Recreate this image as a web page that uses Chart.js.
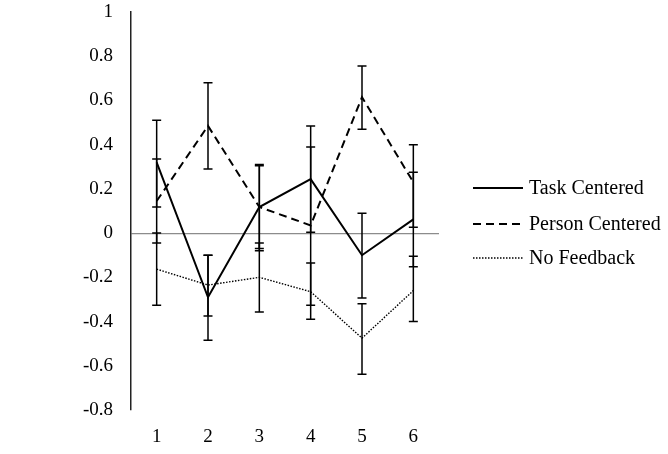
<!DOCTYPE html>
<html>
<head>
<meta charset="utf-8">
<script src="https://cdn.jsdelivr.net/npm/chart.js@4.4.0/dist/chart.umd.min.js"></script>
<style>
  html, body { margin: 0; padding: 0; background: #fff; }
  #wrap { width: 668px; height: 454px; }
</style>
</head>
<body>
<div id="wrap"><canvas id="chart" width="668" height="454"></canvas></div>
<script>
// values
var categories = ['1', '2', '3', '4', '5', '6'];
var yTicks = [1, 0.8, 0.6, 0.4, 0.2, 0, -0.2, -0.4, -0.6, -0.8];

var taskCentered = [0.32, -0.29, 0.118, 0.244, -0.10, 0.062];
var taskLow      = [0.118, -0.485, -0.07, 0.004, -0.294, -0.152];
var taskHigh     = [0.51, -0.10, 0.31, 0.484, 0.09, 0.275];

var personCentered = [0.145, 0.485, 0.118, 0.035, 0.615, 0.23];
var personLow      = [-0.045, 0.29, -0.08, -0.326, 0.47, 0.027];
var personHigh     = [0.335, 0.68, 0.305, 0.39, 0.756, 0.40];

var noFeedback = [-0.163, -0.235, -0.20, -0.265, -0.475, -0.26];
var noFbLow    = [-0.326, -0.375, -0.357, -0.39, -0.638, -0.40];
var noFbHigh   = [0.0, -0.10, -0.045, -0.135, -0.32, -0.105];

var seriesNames = ['Task Centered', 'Person Centered', 'No Feedback'];
var FONT = '"Liberation Serif", "Times New Roman", serif';

// error bars drawn through the scales
var errorBars = {
    id: 'errorBars',
    afterDatasetsDraw: function(chart) {
        var ctx = chart.ctx;
        var x = chart.scales.x, y = chart.scales.y;
        var bounds = [[taskLow, taskHigh], [personLow, personHigh], [noFbLow, noFbHigh]];
        ctx.save();
        ctx.strokeStyle = '#000';
        ctx.lineWidth = 1.5;
        ctx.setLineDash([]);
        bounds.forEach(function(b) {
            for (var i = 0; i < categories.length; i++) {
                var px = x.getPixelForValue(i);
                var lo = y.getPixelForValue(b[0][i]);
                var hi = y.getPixelForValue(b[1][i]);
                ctx.beginPath();
                ctx.moveTo(px, lo); ctx.lineTo(px, hi);
                ctx.moveTo(px - 4.5, lo); ctx.lineTo(px + 4.5, lo);
                ctx.moveTo(px - 4.5, hi); ctx.lineTo(px + 4.5, hi);
                ctx.stroke();
            }
        });
        ctx.restore();
    }
};

// legend on the right
var sideLegend = {
    id: 'sideLegend',
    afterDraw: function(chart) {
        var ctx = chart.ctx;
        var styles = [
            { dash: [], width: 2 },
            { dash: [8, 5], width: 2 },
            { dash: [1.5, 1.5], width: 1.4 }
        ];
        var rows = [188, 224, 258];
        ctx.save();
        ctx.font = '20px ' + FONT;
        ctx.fillStyle = '#000';
        ctx.textBaseline = 'middle';
        seriesNames.forEach(function(name, i) {
            ctx.strokeStyle = '#000';
            ctx.lineWidth = styles[i].width;
            ctx.setLineDash(styles[i].dash);
            ctx.beginPath();
            ctx.moveTo(473, rows[i]);
            ctx.lineTo(523, rows[i]);
            ctx.stroke();
            ctx.setLineDash([]);
            ctx.fillText(name, 529, rows[i] + 1);
        });
        ctx.restore();
    }
};

var ctx = document.getElementById('chart').getContext('2d');
new Chart(ctx, {
    type: 'line',
    data: {
        labels: categories,
        datasets: [{
            label: seriesNames[0],
            data: taskCentered,
            borderColor: '#000',
            borderWidth: 2,
            pointRadius: 0,
            tension: 0
        }, {
            label: seriesNames[1],
            data: personCentered,
            borderColor: '#000',
            borderWidth: 2,
            borderDash: [8, 5],
            pointRadius: 0,
            tension: 0
        }, {
            label: seriesNames[2],
            data: noFeedback,
            borderColor: '#000',
            borderWidth: 1.4,
            borderDash: [1.5, 1.5],
            pointRadius: 0,
            tension: 0
        }]
    },
    options: {
        responsive: false,
        animation: false,
        layout: { padding: { top: 12, right: 229, bottom: 0, left: 0 } },
        plugins: {
            legend: { display: false },
            tooltip: { enabled: false }
        },
        scales: {
            x: {
                offset: true,
                grid: { display: false, drawTicks: false },
                border: { display: false },
                ticks: {
                    padding: 16,
                    color: '#000',
                    font: { family: FONT, size: 19 }
                },
                afterFit: function(scale) {
                    scale.height = 44;
                    scale.paddingLeft = 0;
                    scale.paddingRight = 0;
                }
            },
            y: {
                min: -0.8,
                max: 1,
                afterBuildTicks: function(scale) {
                    scale.ticks = yTicks.map(function(v) { return { value: v }; });
                },
                grid: {
                    drawTicks: false,
                    color: function(c) { return c.tick && c.tick.value === 0 ? '#8c8c8c' : 'rgba(0,0,0,0)'; },
                    lineWidth: 1.2
                },
                border: { display: true, color: '#222', width: 1.5 },
                ticks: {
                    padding: 18,
                    color: '#000',
                    font: { family: FONT, size: 19 },
                    callback: function(v) { return String(Math.round(v * 10) / 10); }
                },
                afterFit: function(scale) {
                    scale.width = 131;
                    scale.paddingTop = 0;
                    scale.paddingBottom = 0;
                }
            }
        }
    },
    plugins: [errorBars, sideLegend]
});
</script>
</body>
</html>
